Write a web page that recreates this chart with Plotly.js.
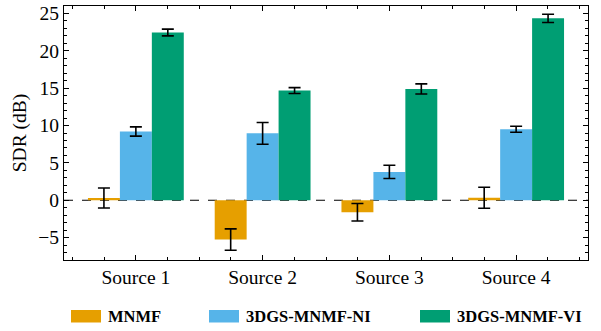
<!DOCTYPE html>
<html>
<head>
<meta charset="utf-8">
<script src="https://cdn.plot.ly/plotly-3.0.1.min.js"></script>
<style>html,body{margin:0;padding:0;background:#fff;}#chart{width:601px;height:331px;}</style>
</head>
<body>
<div id="chart"></div>
<script>
const categories = ["Source 1", "Source 2", "Source 3", "Source 4"];
const seriesNames = ["MNMF", "3DGS-MNMF-NI", "3DGS-MNMF-VI"];
const mnmf = [0.3, -5.27, -1.6, 0.33];
const mnmfErr = [1.34, 1.43, 1.17, 1.4];
const ni = [9.2, 8.95, 3.79, 9.5];
const niErr = [0.62, 1.45, 0.89, 0.4];
const vi = [22.45, 14.68, 14.9, 24.35];
const viErr = [0.45, 0.4, 0.67, 0.55];
const colors = ["#E69F00", "#56B4E9", "#009E73"];

const xpos = categories.map((c, i) => i);
const values = [mnmf, ni, vi];
const errs = [mnmfErr, niErr, viErr];

const traces = values.map((v, k) => ({
  type: "bar",
  x: xpos,
  y: v,
  name: seriesNames[k],
  marker: {color: colors[k], line: {width: 0}},
  error_y: {type: "data", array: errs[k], visible: true, color: "#000", thickness: 1.6, width: 6},
  showlegend: false
}));

const font = "Liberation Serif";

const legSwatchX = [71, 209, 420];
const legTextX = [106, 244, 455];
const L = 64, R = 588, T = 6, B = 260;
const px = x => (x - L) / (R - L);
const py = y => (B - y) / (B - T);
const shapes = [{
  type: "line", xref: "paper", yref: "y", x0: 0, x1: 1, y0: 0, y1: 0,
  line: {color: "#000", width: 1.2, dash: "dash"}, layer: "below"
}];
const annotations = [];
seriesNames.forEach((n, k) => {
  shapes.push({type: "rect", xref: "paper", yref: "paper",
    x0: px(legSwatchX[k]), x1: px(legSwatchX[k] + 30), y0: py(322.5), y1: py(310),
    fillcolor: colors[k], line: {width: 0}});
  annotations.push({xref: "paper", yref: "paper", x: px(legTextX[k]), y: py(316.5),
    xanchor: "left", yanchor: "middle", showarrow: false, text: "<b>" + n + "</b>",
    font: {family: font, size: 16.5, color: "#000"}});
});

const layout = {
  width: 601, height: 331,
  margin: {l: 64, r: 13, t: 6, b: 71, pad: 0},
  paper_bgcolor: "#fff", plot_bgcolor: "#fff",
  font: {family: font, size: 19, color: "#000"},
  barmode: "group", bargap: 0.244, bargroupgap: 0,
  showlegend: false,
  xaxis: {
    range: [-0.567, 3.567], tickvals: xpos, ticktext: categories,
    showline: true, mirror: "ticks", linecolor: "#000", linewidth: 1,
    ticks: "inside", ticklen: 5, tickcolor: "#000", tickwidth: 1,
    minor: {dtick: 0.25, tick0: 0, ticks: "inside", ticklen: 3, tickcolor: "#000", tickwidth: 1},
    showgrid: false, zeroline: false,
    tickfont: {family: font, size: 19.5, color: "#000"}
  },
  yaxis: {
    range: [-8, 26], tickvals: [-5, 0, 5, 10, 15, 20, 25], ticktext: ["\u22125", "0", "5", "10", "15", "20", "25"],
    showline: true, mirror: "ticks", linecolor: "#000", linewidth: 1,
    ticks: "inside", ticklen: 5, tickcolor: "#000", tickwidth: 1,
    minor: {dtick: 1, tick0: 0, ticks: "inside", ticklen: 3, tickcolor: "#000", tickwidth: 1},
    showgrid: false, zeroline: false,
    title: {text: "SDR (dB)", font: {family: font, size: 19.5, color: "#000"}, standoff: 6},
    tickfont: {family: font, size: 19.5, color: "#000"}
  },
  shapes: shapes,
  annotations: annotations
};

Plotly.newPlot("chart", traces, layout, {displayModeBar: false, staticPlot: true});
</script>
</body>
</html>
